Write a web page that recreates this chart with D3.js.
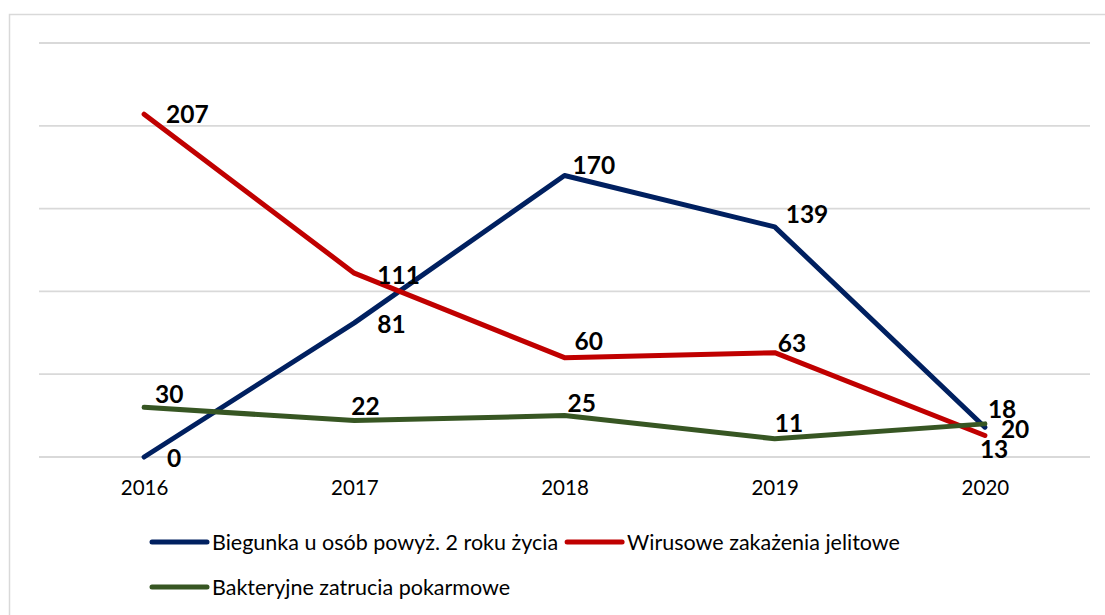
<!DOCTYPE html>
<html><head><meta charset="utf-8">
<script src="https://cdn.jsdelivr.net/npm/d3@7"></script>
<style>
html,body{margin:0;padding:0;background:#fff;}
svg{display:block;}
</style></head>
<body>
<svg id="chart" width="1105" height="615"></svg>
<script>
const years = ["2016","2017","2018","2019","2020"];
const seriesNames = ["Biegunka u osób powyż. 2 roku życia","Wirusowe zakażenia jelitowe","Bakteryjne zatrucia pokarmowe"];
const biegunka = [0, 81, 170, 139, 18];
const wirusowe = [207, 111, 60, 63, 13];
const bakteryjne = [30, 22, 25, 11, 20];
const yTicks = [0, 50, 100, 150, 200, 250];

// layout / style (not data)
const colors = ["#002060", "#C00000", "#375623"];
// label offsets: [dx to left edge, dy of label vertical centre] relative to the point
const labelOffsets = [
  [[23,1.5],[23,1.5],[8,-9.5],[11,-12],[3,-18]],
  [[22,0.5],[23,2.5],[10,-16],[3,-9],[-5,14]],
  [[11,-12.5],[-3,-14.5],[3,-12.5],[0,-15.5],[16,6]]
];

const svg = d3.select("#chart");
const x = d3.scalePoint().domain(years).range([39, 1090]).padding(0.5);
const y = d3.scaleLinear().domain([0, 250]).range([457, 43]);

// outer frame
svg.append("rect").attr("x",9.5).attr("y",14.5).attr("width",1200).attr("height",700)
  .attr("fill","none").attr("stroke","#d9d9d9").attr("stroke-width",1.5);

// gridlines
svg.append("g").selectAll("line").data(yTicks).join("line")
  .attr("x1",39).attr("x2",1090).attr("y1",d=>y(d)).attr("y2",d=>y(d))
  .attr("stroke","#d9d9d9").attr("stroke-width",1.8);

// x axis labels
const xAxis = d3.axisBottom(x).tickSize(0).tickPadding(0);
const gx = svg.append("g").attr("transform","translate(0,481)").call(xAxis);
gx.select(".domain").remove();
gx.selectAll("text").attr("font-family","Lato, 'Open Sans', sans-serif").attr("font-size",20.5)
  .attr("fill","#000").attr("dy","0.68em");

const series = [biegunka, wirusowe, bakteryjne];
const line = d3.line().x((d,i)=>x(years[i])).y(d=>y(d));

series.forEach((s, k) => {
  svg.append("path").datum(s).attr("d", line)
    .attr("fill","none").attr("stroke",colors[k]).attr("stroke-width",5)
    .attr("stroke-linejoin","round").attr("stroke-linecap","round");
});

series.forEach((s, k) => {
  svg.append("g").selectAll("text").data(s).join("text")
    .attr("x",(d,i)=>x(years[i]) + labelOffsets[k][i][0])
    .attr("y",(d,i)=>y(d) + labelOffsets[k][i][1] + 8.5)
    .attr("font-family","Lato, 'Open Sans', sans-serif").attr("font-weight","bold")
    .attr("font-size",24.5).attr("fill","#000")
    .text(d=>d);
});

// legend
const legend = svg.append("g");
function legendItem(k, lx, cy){
  legend.append("line").attr("x1",lx).attr("x2",lx+55).attr("y1",cy).attr("y2",cy)
    .attr("stroke",colors[k]).attr("stroke-width",5).attr("stroke-linecap","round");
  const t = legend.append("text").attr("x",lx+60).attr("y",cy+7.5)
    .attr("font-family","Lato, 'Open Sans', sans-serif").attr("font-size",21.5).attr("fill","#000")
    .text(seriesNames[k]);
  return t.node().getComputedTextLength() + lx + 60;
}
const end0 = legendItem(0, 152, 542);
legendItem(1, end0 + 9, 542);
legendItem(2, 152, 587);
</script>
</body></html>
